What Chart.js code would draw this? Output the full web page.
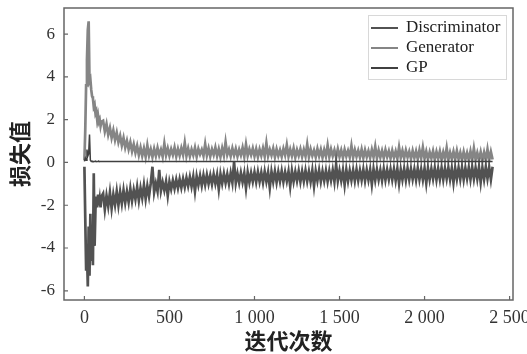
<!DOCTYPE html>
<html>
<head>
<meta charset="utf-8">
<script src="https://cdn.jsdelivr.net/npm/chart.js@4"></script>
<style>
  html, body { margin: 0; padding: 0; background: #fff; }
  #lossChart { display: block; }
</style>
</head>
<body>
<canvas id="lossChart" width="527" height="354"></canvas>
<script>
// 迭代次数（横轴取样点）
const ITER = [
  0, 5, 10, 15, 20, 25, 30, 35, 40, 45, 50, 55, 60, 65, 70, 75, 80, 85, 90, 95, 100,
  110, 120, 130, 140, 150, 160, 170, 180, 190, 200,
  210, 220, 230, 240, 250, 260, 270, 280, 290, 300,
  310, 320, 330, 340, 350, 360, 370, 380, 390, 400,
  410, 420, 430, 440, 450, 460, 470, 480, 490, 500,
  510, 520, 530, 540, 550, 560, 570, 580, 590, 600,
  610, 620, 630, 640, 650, 660, 670, 680, 690, 700,
  710, 720, 730, 740, 750, 760, 770, 780, 790, 800,
  810, 820, 830, 840, 850, 860, 870, 880, 890, 900,
  910, 920, 930, 940, 950, 960, 970, 980, 990, 1000,
  1010, 1020, 1030, 1040, 1050, 1060, 1070, 1080, 1090, 1100,
  1110, 1120, 1130, 1140, 1150, 1160, 1170, 1180, 1190, 1200,
  1210, 1220, 1230, 1240, 1250, 1260, 1270, 1280, 1290, 1300,
  1310, 1320, 1330, 1340, 1350, 1360, 1370, 1380, 1390, 1400,
  1410, 1420, 1430, 1440, 1450, 1460, 1470, 1480, 1490, 1500,
  1510, 1520, 1530, 1540, 1550, 1560, 1570, 1580, 1590, 1600,
  1610, 1620, 1630, 1640, 1650, 1660, 1670, 1680, 1690, 1700,
  1710, 1720, 1730, 1740, 1750, 1760, 1770, 1780, 1790, 1800,
  1810, 1820, 1830, 1840, 1850, 1860, 1870, 1880, 1890, 1900,
  1910, 1920, 1930, 1940, 1950, 1960, 1970, 1980, 1990, 2000,
  2010, 2020, 2030, 2040, 2050, 2060, 2070, 2080, 2090, 2100,
  2110, 2120, 2130, 2140, 2150, 2160, 2170, 2180, 2190, 2200,
  2210, 2220, 2230, 2240, 2250, 2260, 2270, 2280, 2290, 2300,
  2310, 2320, 2330, 2340, 2350, 2360, 2370, 2380, 2390, 2400
];

// Discriminator 损失
const DISC = [
  -0.2, -2.6, -5.0, -4.2, -5.8, -3.0, -5.3, -2.4, -4.6, -3.2, -4.8, -0.5, -3.9, -2.2, -1.6, -2.1, -1.5, -2.0, -1.7, -2.1, -1.6,
  -1.45, -2.20, -1.55, -2.05, -1.40, -2.15, -1.50, -1.98, -1.35, -2.00,
  -1.38, -1.92, -1.30, -1.88, -1.36, -1.85, -1.22, -1.80, -1.28, -1.72,
  -1.15, -1.78, -1.20, -1.66, -1.05, -1.70, -1.10, -1.58, -0.98, -0.20,
  -1.40, -0.98, -1.35, -0.35, -1.32, -0.92, -1.30, -0.88, -1.55, -0.90,
  -1.25, -0.84, -1.22, -0.80, -1.20, -0.78, -1.18, -0.76, -1.15, -0.72,
  -1.10, -0.68, -1.12, -0.66, -1.35, -0.64, -1.05, -0.62, -1.08, -0.60,
  -1.04, -0.58, -1.00, -0.60, -1.02, -0.55, -0.98, -0.57, -1.25, -0.54,
  -0.98, -0.52, -0.96, -0.55, -1.00, -0.50, -0.94, 0.02, -0.97, -0.52,
  -0.95, -0.48, -0.92, -0.50, -1.20, -0.46, -0.93, -0.49, -0.90, -0.45,
  -0.92, -0.44, -0.90, -0.47, -0.94, -0.42, -0.89, -0.46, -1.18, -0.43,
  -0.90, -0.41, -0.93, -0.44, -0.88, -0.40, -0.91, -0.45, -0.87, -0.42,
  -1.12, -0.39, -0.89, -0.43, -0.86, -0.40, -0.90, -0.41, -0.88, -0.38,
  -0.87, -0.42, -0.90, -0.37, -1.10, -0.40, -0.85, -0.36, -0.89, -0.41,
  -0.86, -0.38, -0.88, -0.40, -0.84, -0.36, -0.90, -0.10, -0.86, -0.39,
  -0.85, -0.36, -1.05, -0.34, -0.87, -0.38, -0.83, -0.35, -0.86, -0.33,
  -0.84, -0.37, -0.82, -0.32, -0.86, -0.35, -0.81, -0.34, -1.02, -0.31,
  -0.83, -0.33, -0.80, -0.36, -0.85, -0.30, -0.82, -0.34, -0.79, -0.32,
  -0.81, -0.31, -0.84, -0.29, -0.98, -0.33, -0.80, -0.30, -0.83, -0.28,
  -0.80, -0.30, -0.78, -0.32, -0.82, -0.27, -0.79, -0.31, -0.81, -0.28,
  -0.96, -0.27, -0.79, -0.30, -0.77, -0.26, -0.81, -0.29, -0.78, -0.25,
  -0.80, -0.28, -0.76, -0.24, -0.79, -0.27, -0.94, -0.26, -0.77, -0.25,
  -0.78, -0.23, -0.80, -0.26, -0.75, -0.24, -0.79, -0.22, -0.77, -0.25,
  -0.76, -0.22, -0.92, -0.24, -0.78, -0.21, -0.75, -0.23, -0.80, -0.20
];

// Generator 损失
const GEN = [
  0.1, 1.5, 3.6, 4.8, 6.2, 6.6, 3.8, 3.9, 3.4, 3.1, 3.0, 2.6, 2.7, 2.3, 2.4, 2.0, 2.2, 1.9, 2.0, 1.7, 1.9,
  1.95, 1.45, 1.80, 1.30, 1.62, 1.15, 1.50, 1.05, 1.40, 0.95,
  1.25, 0.80, 1.15, 0.70, 1.02, 0.62, 0.95, 0.52, 0.85, 0.45,
  0.78, 0.35, 0.70, 0.30, 0.66, 0.26, 0.80, 0.32, 0.62, 0.25,
  0.64, 0.30, 0.68, 0.33, 0.60, 0.27, 0.88, 0.34, 0.66, 0.31,
  0.62, 0.35, 0.70, 0.28, 0.63, 0.32, 0.67, 0.36, 0.92, 0.30,
  0.65, 0.29, 0.61, 0.34, 0.69, 0.27, 0.64, 0.38, 0.60, 0.31,
  0.86, 0.33, 0.66, 0.28, 0.62, 0.35, 0.70, 0.30, 0.63, 0.26,
  0.67, 0.32, 0.95, 0.36, 0.61, 0.29, 0.66, 0.33, 0.64, 0.28,
  0.60, 0.34, 0.69, 0.27, 0.84, 0.31, 0.62, 0.35, 0.66, 0.29,
  0.63, 0.26, 0.61, 0.32, 0.67, 0.28, 0.90, 0.30, 0.60, 0.33,
  0.65, 0.25, 0.62, 0.31, 0.58, 0.27, 0.64, 0.34, 0.82, 0.28,
  0.61, 0.30, 0.66, 0.24, 0.59, 0.32, 0.63, 0.27, 0.60, 0.29,
  0.85, 0.26, 0.62, 0.31, 0.57, 0.25, 0.64, 0.30, 0.61, 0.23,
  0.59, 0.28, 0.80, 0.26, 0.62, 0.30, 0.58, 0.24, 0.63, 0.27,
  0.57, 0.22, 0.60, 0.28, 0.55, 0.25, 0.78, 0.23, 0.59, 0.27,
  0.56, 0.24, 0.61, 0.21, 0.58, 0.26, 0.54, 0.22, 0.60, 0.25,
  0.74, 0.20, 0.57, 0.24, 0.55, 0.21, 0.59, 0.26, 0.53, 0.19,
  0.56, 0.23, 0.52, 0.18, 0.72, 0.22, 0.55, 0.20, 0.57, 0.24,
  0.51, 0.17, 0.55, 0.21, 0.53, 0.16, 0.58, 0.20, 0.70, 0.18,
  0.52, 0.15, 0.49, 0.19, 0.54, 0.14, 0.50, 0.18, 0.53, 0.13,
  0.48, 0.16, 0.68, 0.12, 0.47, 0.17, 0.51, 0.14, 0.55, 0.15,
  0.46, 0.11, 0.50, 0.14, 0.45, 0.12, 0.52, 0.10, 0.66, 0.13,
  0.45, 0.11, 0.49, 0.09, 0.47, 0.12, 0.62, 0.10, 0.50, 0.14
];

// GP（梯度惩罚）取样点与数值
const GP_ITER = [
  0, 5, 10, 15, 20, 25, 30, 35, 40, 45, 50, 55, 60, 65, 70, 75, 80, 85, 90, 95, 100,
  150, 200, 250, 300, 350, 400, 450, 500, 550, 600, 650, 700, 750, 800, 850, 900,
  950, 1000, 1050, 1100, 1150, 1200, 1250, 1300, 1350, 1400, 1450, 1500, 1550, 1600,
  1650, 1700, 1750, 1800, 1850, 1900, 1950, 2000, 2050, 2100, 2150, 2200, 2250, 2300,
  2350, 2400
];
const GP = [
  0.05, 0.20, 0.10, 0.60, 0.30, 0.40, 1.30, 0.10, 0.05, 0.06, 0.04, 0.05, 0.05, 0.06, 0.04, 0.05, 0.05, 0.06, 0.04, 0.05, 0.05,
  0.04, 0.05, 0.04, 0.05, 0.04, 0.05, 0.04, 0.05, 0.04, 0.05, 0.04, 0.05, 0.04, 0.05, 0.04, 0.05,
  0.04, 0.05, 0.04, 0.05, 0.04, 0.05, 0.04, 0.05, 0.04, 0.05, 0.04, 0.05, 0.04, 0.05,
  0.04, 0.05, 0.04, 0.05, 0.04, 0.05, 0.04, 0.05, 0.04, 0.05, 0.04, 0.05, 0.04, 0.05,
  0.04, 0.05
];

// 刻度
const X_TICKS = [0, 500, 1000, 1500, 2000, 2500];
const X_TICK_LABELS = ['0', '500', '1 000', '1 500', '2 000', '2 500'];
const Y_TICKS = [-6, -4, -2, 0, 2, 4, 6];
const Y_TICK_LABELS = ['-6', '-4', '-2', '0', '2', '4', '6'];

const SERIES_NAMES = ['Discriminator', 'Generator', 'GP'];
const SERIES_COLORS = ['#525252', '#858585', '#404040'];

function toPoints(xs, ys) {
  return xs.map((x, i) => ({ x: x, y: ys[i] }));
}

// 外框、内向刻度线和图例
const framePlugin = {
  id: 'frame',
  afterDraw(chart) {
    const ctx = chart.ctx;
    const a = chart.chartArea;
    const xs = chart.scales.x;
    const ys = chart.scales.y;
    ctx.save();
    ctx.strokeStyle = '#666';
    ctx.lineWidth = 1.5;
    ctx.strokeRect(a.left, a.top, a.right - a.left, a.bottom - a.top);
    ctx.lineWidth = 1.2;
    ctx.beginPath();
    X_TICKS.forEach(v => {
      const px = xs.getPixelForValue(v);
      ctx.moveTo(px, a.bottom);
      ctx.lineTo(px, a.bottom - 4);
    });
    Y_TICKS.forEach(v => {
      const py = ys.getPixelForValue(v);
      ctx.moveTo(a.left, py);
      ctx.lineTo(a.left + 4, py);
    });
    ctx.stroke();

    // 图例
    const bx = a.right - 145, by = a.top + 7;
    ctx.fillStyle = '#fff';
    ctx.fillRect(bx, by, 138, 64);
    ctx.strokeStyle = '#d8d8d8';
    ctx.lineWidth = 1;
    ctx.strokeRect(bx + 0.5, by + 0.5, 138, 64);
    ctx.font = '17px "Liberation Serif"';
    ctx.textBaseline = 'middle';
    chart.data.datasets.forEach((ds, i) => {
      const ly = by + 13 + i * 20;
      ctx.strokeStyle = ds.borderColor;
      ctx.lineWidth = 2;
      ctx.beginPath();
      ctx.moveTo(bx + 3, ly);
      ctx.lineTo(bx + 30, ly);
      ctx.stroke();
      ctx.fillStyle = '#222';
      ctx.fillText(ds.label, bx + 38, ly);
    });
    ctx.restore();
  }
};

const ctx = document.getElementById('lossChart').getContext('2d');
new Chart(ctx, {
  type: 'line',
  data: {
    datasets: [
      {
        label: SERIES_NAMES[0],
        data: toPoints(ITER, DISC),
        borderColor: SERIES_COLORS[0],
        borderWidth: 2.7,
        pointRadius: 0,
        tension: 0,
        order: 2
      },
      {
        label: SERIES_NAMES[1],
        data: toPoints(ITER, GEN),
        borderColor: SERIES_COLORS[1],
        borderWidth: 2.7,
        pointRadius: 0,
        tension: 0,
        order: 3
      },
      {
        label: SERIES_NAMES[2],
        data: toPoints(GP_ITER, GP),
        borderColor: SERIES_COLORS[2],
        borderWidth: 1.5,
        pointRadius: 0,
        tension: 0,
        order: 1
      }
    ]
  },
  options: {
    responsive: false,
    animation: false,
    layout: { padding: { top: 8, right: 14, left: 0, bottom: 0 } },
    plugins: {
      legend: { display: false },
      tooltip: { enabled: false }
    },
    scales: {
      x: {
        type: 'linear',
        min: -120,
        max: 2520,
        afterBuildTicks: scale => { scale.ticks = X_TICKS.map(v => ({ value: v })); },
        afterFit: scale => {
          scale.height = 54;
          scale.paddingLeft = 0;
          scale.paddingRight = 0;
        },
        grid: { display: false, drawTicks: false },
        border: { display: false },
        ticks: {
          autoSkip: false,
          maxRotation: 0,
          padding: 7,
          color: '#333',
          font: { family: 'Liberation Serif', size: 18 },
          callback: value => X_TICK_LABELS[X_TICKS.indexOf(value)]
        },
        title: {
          display: true,
          text: '迭代次数',
          color: '#222',
          padding: { top: 0, bottom: 0 },
          font: { family: 'Noto Sans CJK SC', size: 22, weight: 'bold' }
        }
      },
      y: {
        min: -6.43,
        max: 7.22,
        afterBuildTicks: scale => { scale.ticks = Y_TICKS.map(v => ({ value: v })); },
        afterFit: scale => {
          scale.width = 64;
          scale.paddingTop = 0;
          scale.paddingBottom = 0;
        },
        grid: { display: false, drawTicks: false },
        border: { display: false },
        ticks: {
          padding: 9,
          color: '#333',
          font: { family: 'Liberation Serif', size: 17 },
          callback: value => Y_TICK_LABELS[Y_TICKS.indexOf(value)]
        },
        title: {
          display: true,
          text: '损失值',
          color: '#222',
          padding: { top: 6, bottom: 0 },
          font: { family: 'Noto Sans CJK SC', size: 22, weight: 'bold' }
        }
      }
    }
  },
  plugins: [framePlugin]
});
</script>
</body>
</html>
